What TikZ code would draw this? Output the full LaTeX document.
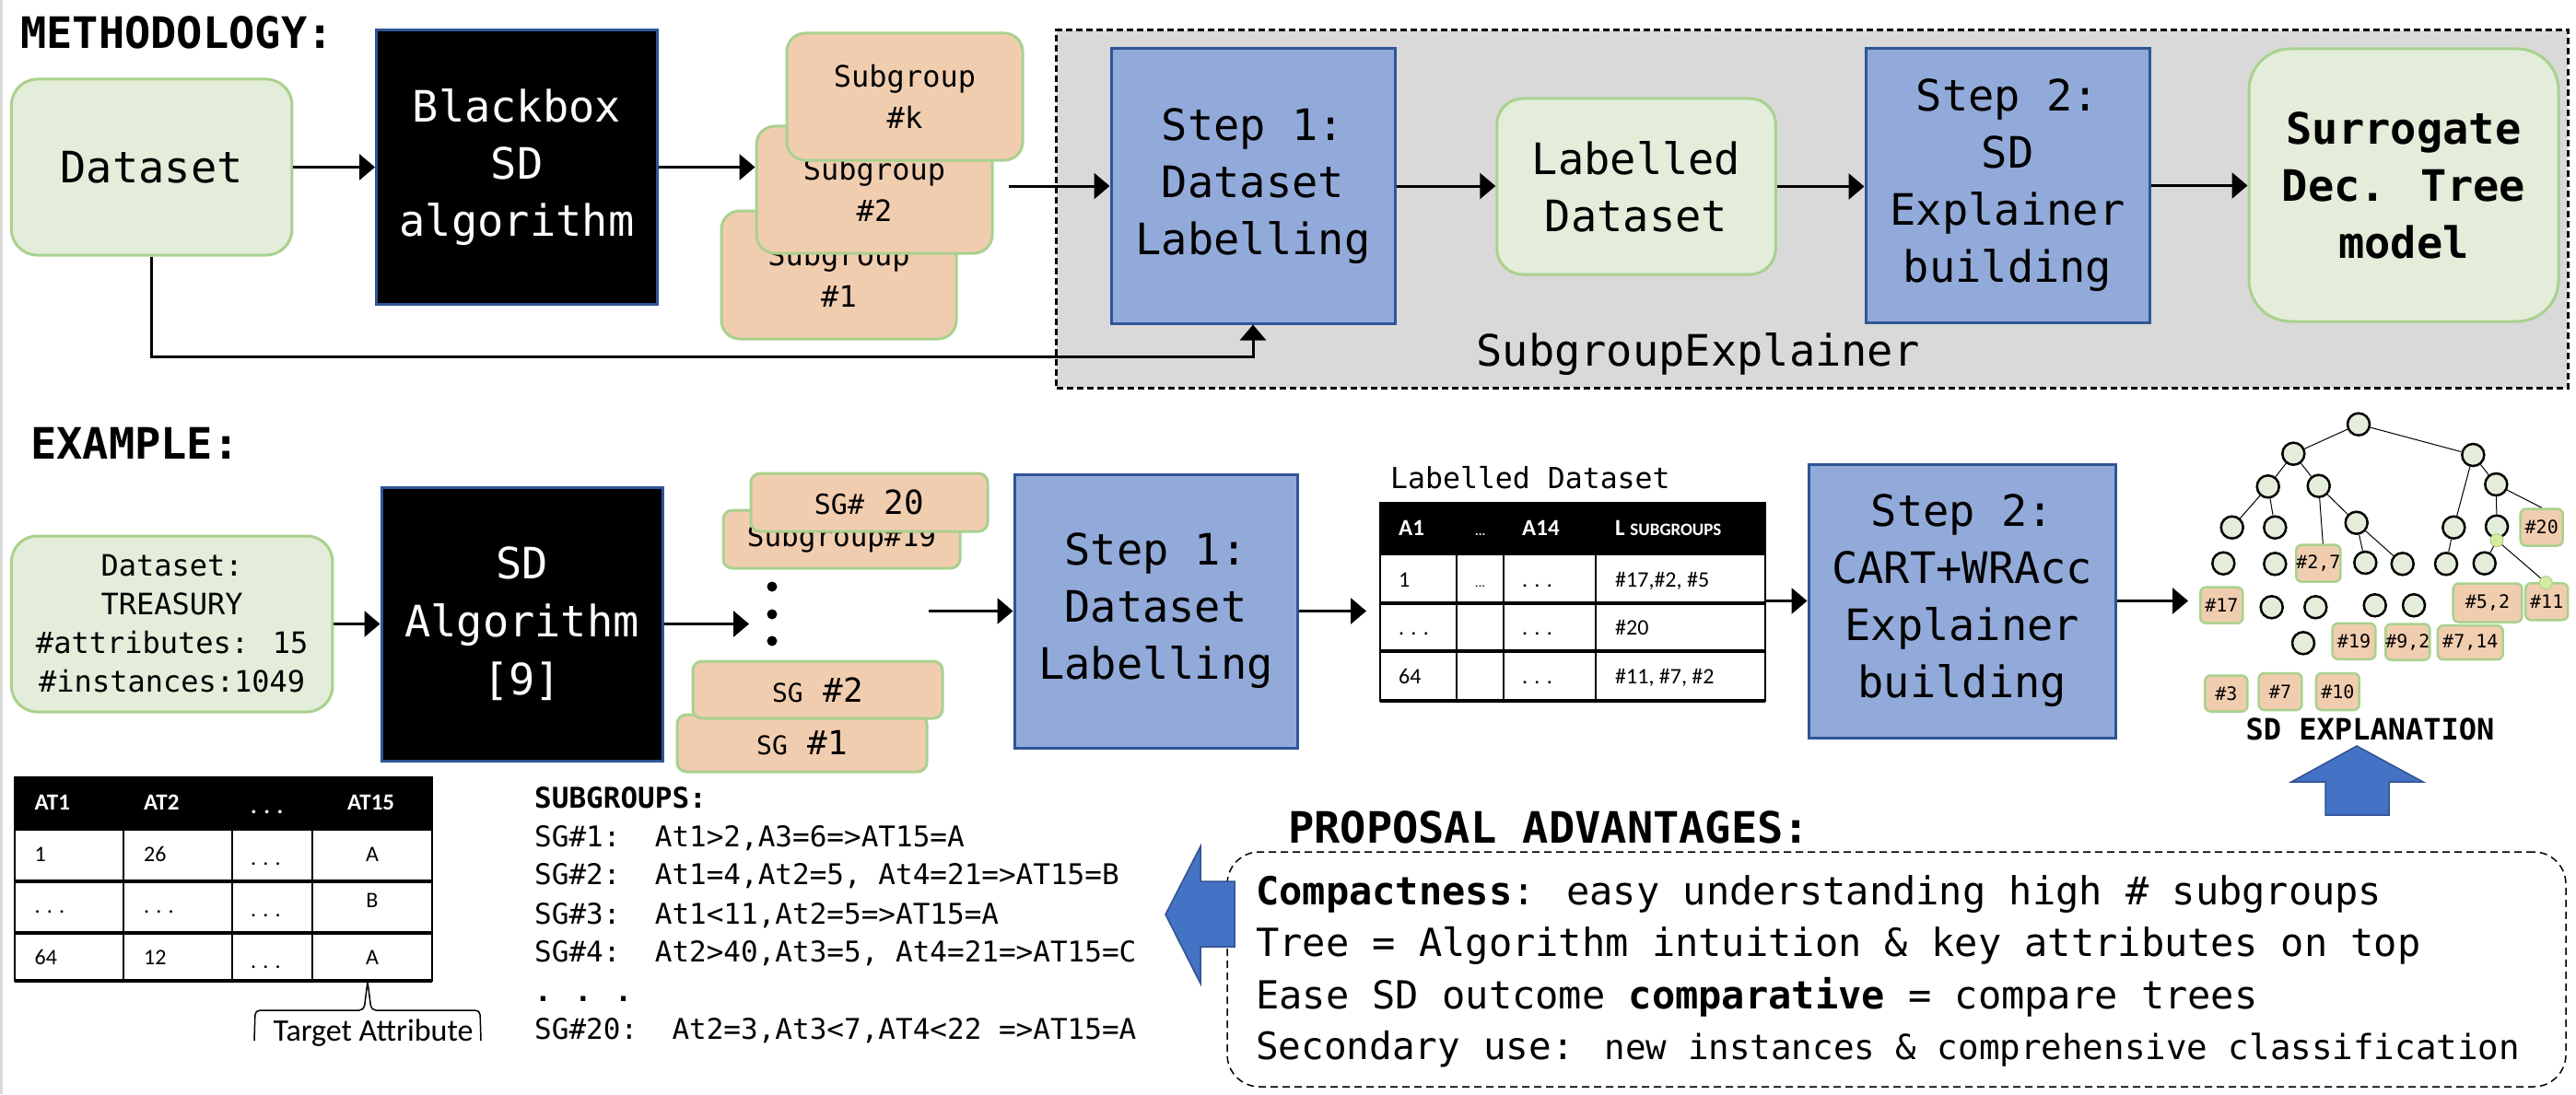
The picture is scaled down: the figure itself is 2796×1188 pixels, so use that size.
\documentclass[tikz,border=0pt]{standalone}
\usepackage{fontspec}
\setmainfont{DejaVu Sans Mono}
\newfontfamily\calfont{Carlito}
\usetikzlibrary{arrows.meta,calc}
\definecolor{gfill}{HTML}{E3EDDA}
\definecolor{gborder}{HTML}{A9D18E}
\definecolor{peach}{HTML}{F1CDB0}
\definecolor{bfill}{HTML}{92AAD9}
\definecolor{bborder}{HTML}{2F5597}
\definecolor{grayfill}{HTML}{D9D9D9}
\definecolor{arrblue}{HTML}{4472C4}
\definecolor{arrborder}{HTML}{2F528F}
\definecolor{dotg}{HTML}{D5EBA0}
\tikzset{
  bigtxt/.style={font=\fontsize{47}{62}\selectfont, align=center},
  midtxt/.style={font=\fontsize{32}{42}\selectfont, align=center},
  sgtxt/.style={font=\fontsize{32}{45}\selectfont, align=center},
  arr/.style={line width=3pt, -{Triangle[length=17pt,width=28pt]}},
  gbox/.style={draw=gborder, fill=gfill, line width=3pt, rounded corners=28pt, inner sep=0pt},
  pbox/.style={draw=gborder, fill=peach, line width=3pt, rounded corners=20pt, inner sep=0pt},
  pboxs/.style={draw=gborder, fill=peach, line width=3pt, rounded corners=10pt, inner sep=0pt},
  bbox/.style={draw=bborder, fill=bfill, line width=3pt, inner sep=0pt},
  kbox/.style={draw=bborder, fill=black, text=white, line width=3pt, inner sep=0pt},
  head/.style={anchor=base west, inner sep=0pt, font=\fontsize{47}{56}\selectfont\bfseries},
  lst/.style={anchor=base west, inner sep=0pt, font=\fontsize{31}{36}\selectfont},
  pa/.style={anchor=base west, inner sep=0pt, font=\fontsize{42}{50}\selectfont},
  thd/.style={anchor=base west, inner sep=0pt, text=white, font=\calfont\fontsize{25}{28}\selectfont\bfseries},
  tcell/.style={anchor=base west, inner sep=0pt, font=\calfont\fontsize{24}{28}\selectfont},
  tn/.style={circle, draw=black, line width=2.5pt, fill=gfill, minimum size=24pt, inner sep=0pt},
  tl/.style={draw=gborder, fill=peach, line width=2.5pt, rounded corners=6pt, inner sep=0pt, font=\fontsize{20}{22}\selectfont},
  gd/.style={circle, draw=gborder, fill=dotg, line width=1pt, minimum size=14pt, inner sep=0pt},
  te/.style={line width=1pt},
  bigarrow/.style={fill=arrblue, draw=arrborder, line width=1.5pt}
}
\begin{document}
\begin{tikzpicture}[x=1pt,y=-1pt]
\useasboundingbox[fill=white] (0,0) rectangle (2796,1188);
\draw[black!15, line width=3pt] (1.5,0) -- (1.5,1188);

% ---------------- METHODOLOGY ----------------
\node[head] (hMeth) at (22,53) {METHODOLOGY:};

\node[draw, dash pattern=on 7pt off 4pt, line width=3pt, fill=grayfill, minimum width=1640.5pt, minimum height=388pt, inner sep=0pt] (se) at (1966.75,227) {};
\node[anchor=base, inner sep=0pt, font=\fontsize{47}{56}\selectfont] (sel) at (1843,397) {SubgroupExplainer};

\node[gbox, minimum width=304.5pt, minimum height=191pt, bigtxt] (ds) at (164.7,181.5) {Dataset};
\node[kbox, minimum width=305pt, minimum height=297pt, bigtxt] (bb) at (561,181.5) {Blackbox\\SD\\algorithm};
\node[pbox, minimum width=255pt, minimum height=139pt, sgtxt] (sg1) at (910.5,298.5) {Subgroup\\\#1};
\node[pbox, minimum width=256pt, minimum height=138pt, sgtxt] (sg2) at (949,206) {Subgroup\\\#2};
\node[pbox, minimum width=256pt, minimum height=138pt, sgtxt] (sgk) at (982,105) {Subgroup\\\#k};
\node[bbox, minimum width=308pt, minimum height=298pt, bigtxt] (s1) at (1360,202) {Step 1:\\Dataset\\Labelling};
\node[gbox, minimum width=302.5pt, minimum height=191pt, bigtxt] (ld) at (1776,202.5) {Labelled\\Dataset};
\node[bbox, minimum width=308pt, minimum height=297pt, bigtxt] (s2) at (2179,201.5) {Step 2:\\SD\\Explainer\\building};
\node[gbox, rounded corners=45pt, minimum width=336pt, minimum height=296pt, align=center, font=\fontsize{47}{62}\selectfont\bfseries] (sur) at (2609,201) {Surrogate\\Dec. Tree\\model};

\coordinate (sgin) at (1095,202);
\coordinate (lowY) at (0,387);
\draw[arr] (ds.east) -- (bb.west);
\draw[arr] (bb.east) -- (sg2.west |- bb.east);
\draw[arr] (sgin) -- (s1.west |- sgin);
\draw[arr] (s1.east) -- (ld.west |- s1.east);
\draw[arr] (ld.east) -- (s2.west |- ld.east);
\draw[arr] (s2.east) -- (sur.west |- s2.east);
\draw[arr] (ds.south) |- (lowY -| s1.south) -- (s1.south);

% ---------------- EXAMPLE ----------------
\node[head] (hEx) at (33,498) {EXAMPLE:};
\node[gbox, minimum width=348.5pt, minimum height=191pt, midtxt] (dex) at (186.7,677.5) {Dataset:\\TREASURY\\\#attributes: 15\\\#instances:1049};
\node[kbox, minimum width=305pt, minimum height=297pt, align=center, font=\fontsize{47}{63}\selectfont] (sda) at (566.5,677.5) {SD\\Algorithm\\{[9]}};

\node[pboxs, minimum width=257pt, minimum height=63pt, font=\fontsize{31}{36}\selectfont] (sg19) at (913.5,585.5) {Subgroup\#19};
\node[pboxs, minimum width=257pt, minimum height=63pt] (sg20) at (943.5,545.5) {{\fontsize{30}{36}\selectfont SG\#}{\fontsize{36}{36}\selectfont\ 20}};
\node[pboxs, minimum width=271pt, minimum height=62pt] (sgb1) at (870.5,807) {{\fontsize{28}{36}\selectfont SG}{\fontsize{36}{36}\selectfont\ \#1}};
\node[pboxs, minimum width=271pt, minimum height=62pt] (sgb2) at (887.5,749) {{\fontsize{28}{36}\selectfont SG}{\fontsize{36}{36}\selectfont\ \#2}};
\node[circle, fill=black, inner sep=0pt, minimum size=11pt] (dt1) at (838,637) {};
\node[circle, fill=black, inner sep=0pt, minimum size=11pt] (dt2) at (838,667) {};
\node[circle, fill=black, inner sep=0pt, minimum size=11pt] (dt3) at (838,696) {};

\node[bbox, minimum width=307pt, minimum height=297pt, bigtxt] (ex1) at (1254.5,663.5) {Step 1:\\Dataset\\Labelling};
\node[bbox, minimum width=333.5pt, minimum height=297pt, bigtxt] (ex2) at (2129.75,652.5) {Step 2:\\CART+WRAcc\\Explainer\\building};

\coordinate (dotsin) at (813,677.5);
\coordinate (sgout) at (1008,663.5);
\coordinate (tabin) at (1483,663.5);
\coordinate (tabout) at (1916,652.5);
\coordinate (treein) at (2375,652.5);
\draw[arr] (dex.east) -- (sda.west);
\draw[arr] (sda.east) -- (dotsin);
\draw[arr] (sgout) -- (ex1.west |- sgout);
\draw[arr] (ex1.east) -- (tabin);
\draw[arr] (tabout) -- (ex2.west |- tabout);
\draw[arr] (ex2.east) -- (treein);

% Labelled dataset table
\node[anchor=base west, inner sep=0pt, font=\fontsize{31.5}{36}\selectfont] (ldl) at (1509,530) {Labelled Dataset};
\fill[black] (1498,546) rectangle (1916,603);
\fill[white] (1498,603) rectangle (1916,761);
\draw[line width=2pt] (1581,603) -- (1581,761) (1631.5,603) -- (1631.5,761) (1732,603) -- (1732,761);
\draw[line width=2pt] (1498,546) rectangle (1916,761);
\draw[line width=3.5pt] (1498,655) -- (1916,655) (1498,707) -- (1916,707);
\draw[line width=4pt] (1498,761) -- (1916,761);
\node[thd] (lh1) at (1518,581) {A1};
\node[thd, font=\calfont\fontsize{14}{16}\selectfont\bfseries] (lh2) at (1601,581) {...};
\node[thd] (lh3) at (1652,581) {A14};
\node[thd] (lh4) at (1753,581) {L {\fontsize{19}{22}\selectfont SUBGROUPS}};
\node[tcell] (l11) at (1518,637) {1};
\node[tcell, font=\calfont\fontsize{14}{16}\selectfont] (l12) at (1601,637) {...};
\node[tcell] (l13) at (1652,637) {. . .};
\node[tcell] (l14) at (1753,637) {\#17,\#2, \#5};
\node[tcell] (l21) at (1518,689) {. . .};
\node[tcell] (l23) at (1652,689) {. . .};
\node[tcell] (l24) at (1753,689) {\#20};
\node[tcell] (l31) at (1518,742) {64};
\node[tcell] (l33) at (1652,742) {. . .};
\node[tcell] (l34) at (1753,742) {\#11, \#7, \#2};

% Tree
\node[tn] (root) at (2560,460.7) {};
\node[tn] (na) at (2489.3,492.7) {};
\node[tn] (nb) at (2684.3,494) {};
\node[tn] (naa) at (2461.7,528.3) {};
\node[tn] (nab) at (2516.7,527.7) {};
\node[tn] (nbb) at (2709.3,526) {};
\node[tn] (naaa) at (2422.7,572.7) {};
\node[tn] (naab) at (2469.3,572.7) {};
\node[tn] (nabb) at (2557.7,567.7) {};
\node[tn] (nba) at (2663.3,572.7) {};
\node[tn] (nbba) at (2710,571.7) {};
\node[tn] (r41) at (2413.3,611.7) {};
\node[tn] (r42) at (2469.3,612.3) {};
\node[tn] (r43) at (2567.3,611) {};
\node[tn] (r44) at (2607.7,612.3) {};
\node[tn] (r45) at (2655,612.3) {};
\node[tn] (r46) at (2696.7,611.7) {};
\node[tn] (r51) at (2465.7,659.3) {};
\node[tn] (r52) at (2513.3,659.3) {};
\node[tn] (r53) at (2577.7,657.3) {};
\node[tn] (r54) at (2620,657.3) {};
\node[tn] (r61) at (2500,698.3) {};
\node[tl, minimum width=46pt, minimum height=40pt] (l20) at (2758.7,572.5) {\#20};
\node[tl, minimum width=46pt, minimum height=40pt] (l27) at (2516.3,611.7) {\#2,7};
\node[tl, minimum width=46pt, minimum height=39pt] (l17) at (2411.3,657.2) {\#17};
\node[tl, minimum width=74.6pt, minimum height=42pt] (l52) at (2700,654.5) {\#5,2\ };
\node[tl, minimum width=46pt, minimum height=40pt] (l11) at (2764.2,653.3) {\#11};
\node[tl, minimum width=46.6pt, minimum height=39pt] (l19) at (2555,696.3) {\#19};
\node[tl, minimum width=46.7pt, minimum height=39pt] (l92) at (2613.3,697) {\#9,2};
\node[tl, minimum width=70.7pt, minimum height=37pt] (l714) at (2681.3,697.7) {\#7,14};
\node[tl, minimum width=46pt, minimum height=39pt] (l3) at (2416.3,753) {\#3\ };
\node[tl, minimum width=46.6pt, minimum height=40pt] (l7) at (2475,751) {\#7\ };
\node[tl, minimum width=46.7pt, minimum height=40pt] (l10) at (2537.3,751) {\#10};
\node[gd] (gd1) at (2710,586.7) {};
\node[gd] (gd2) at (2763.3,632.7) {};
\draw[te] (root) -- (na);
\draw[te] (root) -- (nb);
\draw[te] (na) -- (naa);
\draw[te] (na) -- (nab);
\draw[te] (naa) -- (naaa);
\draw[te] (naa) -- (naab);
\draw[te] (nab) -- ([xshift=5pt]l27.north);
\draw[te] (nab) -- (nabb);
\draw[te] (nabb) -- (r43);
\draw[te] (nabb) -- (r44);
\draw[te] (nb) -- (nba);
\draw[te] (nb) -- (nbb);
\draw[te] (nbb) -- (nbba);
\draw[te] (nbb) -- (l20.north);
\draw[te] (nba) -- (r45);
\draw[te] (gd1) -- (r46);
\draw[te] (gd1) -- (gd2);

\node[anchor=base, inner sep=0pt, font=\fontsize{32}{36}\selectfont\bfseries] (sdex) at (2572.5,803) {SD EXPLANATION};
\draw[bigarrow] (2558,810) -- (2630,849) -- (2593,849) -- (2593,885) -- (2524,885) -- (2524,849) -- (2487,849) -- cycle;

% ---------------- PROPOSAL ADVANTAGES ----------------
\node[head] (hPa) at (1398,915) {PROPOSAL ADVANTAGES:};
\node[draw, dash pattern=on 8pt off 5pt, line width=1.5pt, rounded corners=35pt, minimum width=1453pt, minimum height=255pt, inner sep=0pt] (pab) at (2058.5,1052.5) {};
\node[pa] (pa1) at (1363,982) {\textbf{Compactness}: easy understanding high \# subgroups};
\node[pa] (pa2) at (1363,1038) {Tree = Algorithm intuition \& key attributes on top};
\node[pa] (pa3) at (1363,1095) {Ease SD outcome \textbf{comparative} = compare trees};
\node[pa] (pa4) at (1363,1150) {{\fontsize{41}{48}\selectfont Secondary use: }{\fontsize{37.5}{44}\selectfont new instances \& comprehensive classification}};
\draw[bigarrow] (1265,993) -- (1303,919) -- (1303,957) -- (1340,957) -- (1340,1028) -- (1303,1028) -- (1303,1068) -- cycle;

% ---------------- SUBGROUPS list ----------------
\node[lst, font=\fontsize{31}{36}\selectfont\bfseries] (sgh) at (580,877) {SUBGROUPS:};
\node[lst] (sgl1) at (580,919) {SG\#1:\ \ At1>2,A3=6=>AT15=A};
\node[lst] (sgl2) at (580,960) {SG\#2:\ \ At1=4,At2=5, At4=21=>AT15=B};
\node[lst] (sgl3) at (580,1003) {SG\#3:\ \ At1<11,At2=5=>AT15=A};
\node[lst] (sgl4) at (580,1044) {SG\#4:\ \ At2>40,At3=5, At4=21=>AT15=C};
\node[lst, font=\fontsize{31}{36}\selectfont\bfseries] (sgl5) at (580,1087) {. . .};
\node[lst] (sgl6) at (580,1128) {SG\#20:\ \ At2=3,At3<7,AT4<22 =>AT15=A};

% ---------------- AT table ----------------
\fill[black] (16,844) rectangle (469,902);
\fill[white] (16,902) rectangle (469,1065);
\draw[line width=2pt] (134,902) -- (134,1065) (252,902) -- (252,1065) (339,902) -- (339,1065);
\draw[line width=2pt] (16,844) rectangle (469,1065);
\draw[line width=3.5pt] (16,957) -- (469,957) (16,1013) -- (469,1013);
\draw[line width=4pt] (16,1065) -- (469,1065);
\node[thd] (ah1) at (37.5,879) {AT1};
\node[thd] (ah2) at (156,879) {AT2};
\node[thd] (ah3) at (272,883) {. . .};
\node[thd] (ah4) at (377,879) {AT15};
\node[tcell] (a11) at (37.5,935) {1};
\node[tcell] (a12) at (156,935) {26};
\node[tcell] (a13) at (272,939) {. . .};
\node[tcell, anchor=base] (a14) at (404,935) {A};
\node[tcell] (a21) at (37.5,991) {. . .};
\node[tcell] (a22) at (156,991) {. . .};
\node[tcell] (a23) at (272,995) {. . .};
\node[tcell, anchor=base] (a24) at (404,985) {B};
\node[tcell] (a31) at (37.5,1047) {64};
\node[tcell] (a32) at (156,1047) {12};
\node[tcell] (a33) at (272,1051) {. . .};
\node[tcell, anchor=base] (a34) at (404,1047) {A};
\coordinate (tatop) at (399,1066);
\draw[line width=1.5pt, rounded corners=5pt] (276,1130) -- (277,1097) -- (395,1097) -- (tatop);
\draw[line width=1.5pt, rounded corners=5pt] (522,1130) -- (521,1097) -- (403,1097) -- (tatop);
\node[anchor=base, inner sep=0pt, font=\calfont\fontsize{34}{40}\selectfont] (tattr) at (405,1130) {Target Attribute};
\end{tikzpicture}
\end{document}
